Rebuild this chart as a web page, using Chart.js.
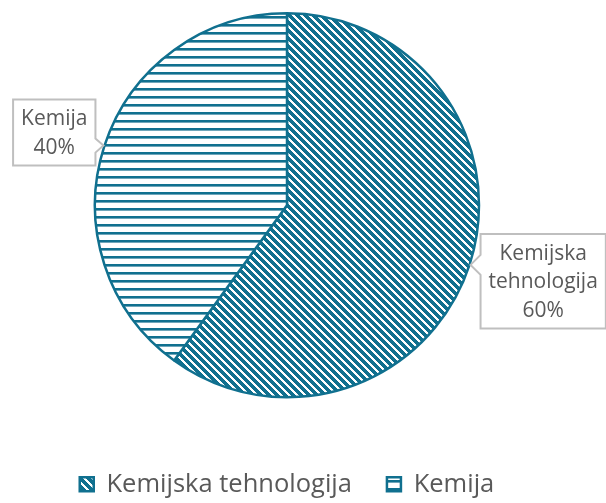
<!DOCTYPE html>
<html>
<head>
<meta charset="utf-8">
<script src="https://cdn.jsdelivr.net/npm/chart.js@4/dist/chart.umd.min.js"></script>
<style>
  html, body { margin: 0; padding: 0; background: #fff; }
  canvas { display: block; }
</style>
</head>
<body>
<canvas id="pie" width="606" height="503"></canvas>
<script>
// Données
const categories = ['Kemijska tehnologija', 'Kemija'];
const values = [60, 40];

const TEAL = '#10708f';
const TEXT = '#595959';
const FONT = "'Open Sans', sans-serif";

const canvas = document.getElementById('pie');
const ctx = canvas.getContext('2d');

// Motifs de remplissage (hachures)
function makePattern(kind) {
  const c = document.createElement('canvas');
  c.width = 8; c.height = 8;
  const g = c.getContext('2d');
  g.fillStyle = '#fff';
  g.fillRect(0, 0, 8, 8);
  g.fillStyle = TEAL;
  if (kind === 'diag') {
    for (let y = 0; y < 8; y++)
      for (let x = 0; x < 8; x++)
        if ((((x - y) % 8) + 8) % 8 < 5) g.fillRect(x, y, 1, 1);
  } else {
    g.fillRect(0, 0, 8, 2);
    g.fillStyle = '#6fa6ba';
    g.fillRect(0, 2, 8, 1);
  }
  return ctx.createPattern(c, 'repeat');
}

// Étiquettes en bulle
const callouts = {
  id: 'callouts',
  afterDatasetsDraw(chart) {
    const c = chart.ctx;
    const meta = chart.getDatasetMeta(0);
    const total = values.reduce((a, b) => a + b, 0);
    const lineH = 28.5;
    c.save();
    c.font = `21px ${FONT}`;
    meta.data.forEach((arc, i) => {
      const p = arc.getProps(['x', 'y', 'startAngle', 'endAngle', 'outerRadius'], true);
      const mid = (p.startAngle + p.endAngle) / 2;
      const tx = p.x + Math.cos(mid) * (p.outerRadius + 1);
      const ty = p.y + Math.sin(mid) * (p.outerRadius + 1);
      const pct = Math.round(values[i] / total * 100) + '%';
      const lines = categories[i].split(' ').concat(pct);
      const w = Math.max(...lines.map(l => c.measureText(l).width)) + 16;
      const h = lines.length * lineH + 9;
      const right = tx > p.x;
      const bx = right ? tx + 10 : tx - 8 - w;
      const by = right ? ty - 31 : ty - 46;
      const half = right ? 10 : 7;
      c.beginPath();
      if (right) {
        c.moveTo(bx, by);
        c.lineTo(bx + w, by);
        c.lineTo(bx + w, by + h);
        c.lineTo(bx, by + h);
        c.lineTo(bx, ty + half);
        c.lineTo(tx, ty);
        c.lineTo(bx, ty - half);
      } else {
        c.moveTo(bx, by);
        c.lineTo(bx + w, by);
        c.lineTo(bx + w, ty - half);
        c.lineTo(tx, ty);
        c.lineTo(bx + w, ty + half);
        c.lineTo(bx + w, by + h);
        c.lineTo(bx, by + h);
      }
      c.closePath();
      c.fillStyle = '#fff';
      c.fill();
      c.strokeStyle = '#bfbfbf';
      c.lineWidth = 2;
      c.stroke();
      c.fillStyle = TEXT;
      c.textAlign = 'center';
      c.textBaseline = 'middle';
      const cy = by + h / 2;
      lines.forEach((l, k) => {
        c.fillText(l, bx + w / 2, cy + (k - (lines.length - 1) / 2) * lineH + 1);
      });
    });
    c.restore();
  }
};

function draw() {
  new Chart(ctx, {
    type: 'pie',
    data: {
      labels: categories,
      datasets: [{
        data: values,
        backgroundColor: [makePattern('diag'), makePattern('horiz')],
        borderColor: TEAL,
        borderWidth: 2.5
      }]
    },
    options: {
      responsive: false,
      animation: false,
      layout: { padding: { top: 12, right: 32, bottom: -4, left: 0 } },
      plugins: {
        tooltip: { enabled: false },
        legend: {
          position: 'bottom',
          title: { display: true, text: ' ', font: { size: 10, lineHeight: 1 }, padding: { top: 0, bottom: 28 } },
          labels: {
            boxWidth: 14,
            boxHeight: 14,
            padding: 35,
            color: TEXT,
            font: { family: FONT, size: 25.5 }
          }
        }
      }
    },
    plugins: [callouts]
  });
}

document.fonts.load(`25px ${FONT}`).then(draw, draw);
</script>
</body>
</html>
